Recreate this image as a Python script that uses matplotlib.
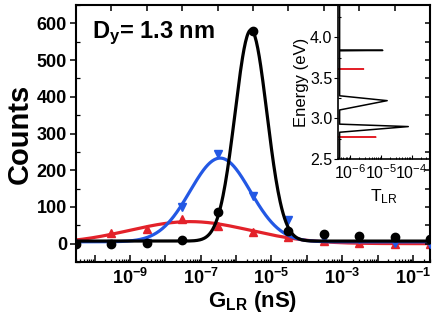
import numpy as np
import matplotlib.pyplot as plt
from matplotlib.ticker import MultipleLocator, LogLocator, NullFormatter, FixedLocator

plt.rcParams['font.family'] = ['Liberation Sans', 'DejaVu Sans']
plt.rcParams['mathtext.fontset'] = 'custom'
plt.rcParams['mathtext.rm'] = 'Liberation Sans'
plt.rcParams['mathtext.bf'] = 'Liberation Sans:bold'
plt.rcParams['mathtext.it'] = 'Liberation Sans:italic'

# histogram of G_LR (bin centres, nS)
g_lr = [3e-11, 3e-10, 3e-9, 3e-8, 3e-7, 3e-6, 3e-5, 3e-4, 3e-3, 3e-2, 3e-1]
counts_black = [0, 0, 1, 10, 85, 580, 35, 27, 22, 17, 12]
counts_blue = [0, 0, 3, 100, 245, 131, 65, 15, 14, 1, 0]
counts_red = [5, 30, 41, 66, 49, 31, 17, 8, 3, 0, 0]

# gaussian fits in log10(G): y0, A, centre, width
fit_black = (7, 575, -5.58, 0.45)
fit_blue = (5, 228, -6.45, 0.85)
fit_red = (0, 60, -7.3, 1.7)

# inset: transmission spectra
base_black = 4.5e-7
base_red = 1e-7
energy_black = [2.50, 2.83, 2.90, 2.93, 3.105, 3.22, 3.28, 3.835, 3.84, 3.845, 4.40]
t_black = [base_black, base_black, 7.8e-5, base_black, base_black, 1.6e-5, base_black,
           base_black, 1.15e-5, base_black, base_black]
energy_red = [2.50, 2.7699, 2.77, 2.7701, 3.6099, 3.61, 3.6101, 4.40]
t_red = [base_red, base_red, 6.8e-6, base_red, base_red, 2.7e-6, base_red, base_red]

red = '#e3222a'
blue = '#2358e4'


def gauss(logx, p):
    y0, a, c, w = p
    return y0 + a * np.exp(-(logx - c) ** 2 / (2 * w ** 2))


fig = plt.figure(figsize=(4.36, 3.22), dpi=100)
ax = fig.add_axes([0.1743, 0.1863, 0.8119, 0.7982])

lx = np.linspace(-10.6, -0.4, 500)
xs = 10 ** lx
ax.plot(xs, gauss(lx, fit_red), color=red, lw=2.3, zorder=2)
ax.plot(g_lr, counts_red, '^', color=red, ms=6, zorder=2)
ax.plot(xs, gauss(lx, fit_blue), color=blue, lw=2.3, zorder=3)
ax.plot(g_lr, counts_blue, 'v', color=blue, ms=6, zorder=3)
ax.plot(xs, gauss(lx, fit_black), color='black', lw=2.3, zorder=4)
ax.plot(g_lr, counts_black, 'o', color='black', ms=6, zorder=4)

ax.set_xscale('log')
ax.set_xlim(3e-11, 3e-1)
ax.set_ylim(-50, 650)

decades = [10.0 ** k for k in range(-10, 0)]
ax.xaxis.set_major_locator(FixedLocator(decades))
ax.set_xticklabels(['' if k % 2 == 0 else r'$\mathbf{10^{%d}}$' % k for k in range(-10, 0)])
ax.xaxis.set_minor_locator(LogLocator(base=10, subs=np.arange(2, 10), numticks=30))
ax.xaxis.set_minor_formatter(NullFormatter())
ax.yaxis.set_major_locator(MultipleLocator(100))
ax.yaxis.set_minor_locator(MultipleLocator(50))
ax.set_yticks([0, 100, 200, 300, 400, 500, 600])

ax.tick_params(axis='x', which='major', direction='in', length=5, width=1.1,
               labelsize=13, pad=4, top=False)
ax.tick_params(axis='x', which='minor', direction='in', length=2.5, width=0.9, top=False)
ax.tick_params(axis='y', which='major', direction='out', length=4.5, width=1.1,
               labelsize=13, pad=2, right=False)
ax.tick_params(axis='y', which='minor', direction='in', length=3, width=0.9, right=False)
for lab in ax.get_yticklabels():
    lab.set_fontweight('bold')
for s in ax.spines.values():
    s.set_linewidth(1.5)

ax.set_xlabel(r'$\mathbf{G_{LR}}$ (nS)', fontsize=16, fontweight='bold', labelpad=1)
ax.set_ylabel('Counts', fontsize=21, fontweight='bold', labelpad=2)
ax.text(0.045, 0.89, r'$\mathbf{D_y}$= 1.3 nm', transform=ax.transAxes,
        fontsize=17, fontweight='bold', va='center', ha='left')

# top ticks at bin centres, right ticks inward
top = ax.twiny()
top.set_xscale('log')
top.set_xlim(ax.get_xlim())
top.xaxis.set_major_locator(FixedLocator(g_lr))
top.xaxis.set_minor_locator(FixedLocator([]))
top.set_xticklabels([])
top.tick_params(axis='x', direction='in', length=4, width=1.1)
right = ax.twinx()
right.set_ylim(ax.get_ylim())
right.yaxis.set_major_locator(MultipleLocator(50))
right.set_yticklabels([])
right.tick_params(axis='y', direction='in', length=3.5, width=1.1)
for a in (top, right):
    for s in a.spines.values():
        s.set_visible(False)

# inset
ins = fig.add_axes([0.7752, 0.5062, 0.211, 0.4783])
ins.patch.set_alpha(0)
ins.plot(t_red, energy_red, color=red, lw=1.2)
ins.plot(t_black, energy_black, color='black', lw=1.1)
ins.set_xscale('log')
ins.set_xlim(10 ** -6.4, 10 ** -3.4)
ins.set_ylim(2.5, 4.4)
ins.xaxis.set_major_locator(FixedLocator([1e-6, 1e-5, 1e-4]))
ins.set_xticklabels([r'$\mathrm{10^{-6}}$', r'$\mathrm{10^{-5}}$', r'$\mathrm{10^{-4}}$'])
ins.xaxis.set_minor_locator(LogLocator(base=10, subs=np.arange(2, 10), numticks=30))
ins.xaxis.set_minor_formatter(NullFormatter())
ins.yaxis.set_major_locator(MultipleLocator(0.5))
ins.yaxis.set_minor_locator(MultipleLocator(0.25))
ins.set_yticks([2.5, 3.0, 3.5, 4.0])
ins.set_yticklabels(['2.5', '3.0', '3.5', '4.0'])
ins.tick_params(axis='x', which='major', direction='in', length=3, width=0.8,
                labelsize=11.5, pad=3)
ins.tick_params(axis='x', which='minor', direction='in', length=1.5, width=0.7)
ins.tick_params(axis='y', which='major', direction='out', length=3, width=0.8,
                labelsize=11.5, pad=1)
ins.tick_params(axis='y', which='minor', direction='in', length=2, width=0.8)
for s in ins.spines.values():
    s.set_linewidth(1.2)
ins.set_xlabel(r'T$_{\mathrm{LR}}$', fontsize=12.5, labelpad=4)
ins.set_ylabel('Energy (eV)', fontsize=12, labelpad=1)

fig.savefig('out.png', dpi=100)
